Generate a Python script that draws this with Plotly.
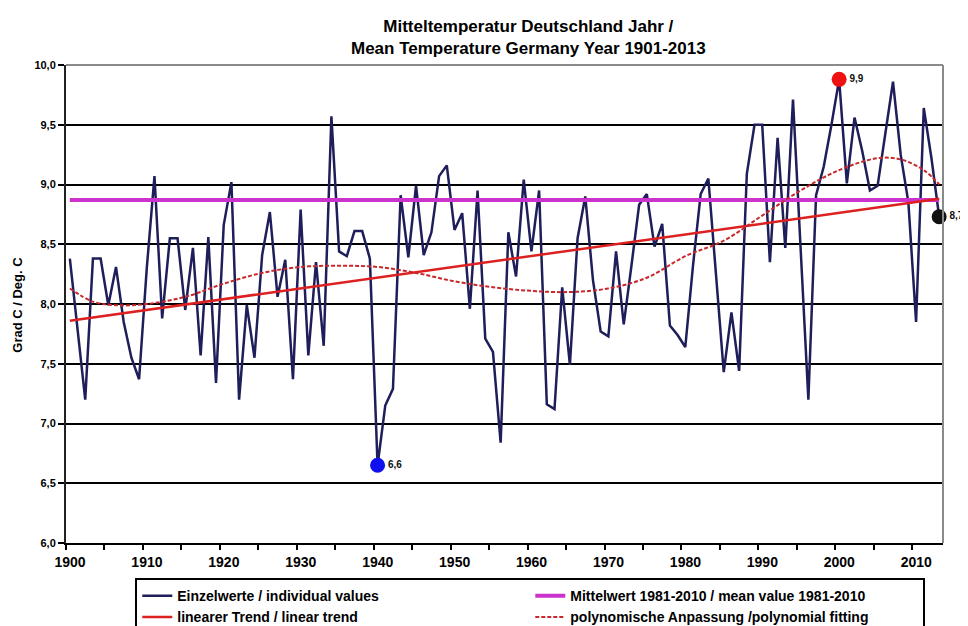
import plotly.graph_objects as go

# ---------------- data ----------------
years = list(range(1900, 2014))
temps = [
    8.38, 7.80, 7.20, 8.38, 8.38, 7.99, 8.31, 7.85, 7.55, 7.37,   # 1900-1909
    8.30, 9.07, 7.88, 8.55, 8.55, 7.95, 8.47, 7.57, 8.56, 7.34,   # 1910-1919
    8.66, 9.02, 7.20, 7.99, 7.55, 8.41, 8.77, 8.06, 8.37, 7.37,   # 1920-1929
    8.79, 7.57, 8.35, 7.65, 9.57, 8.44, 8.40, 8.61, 8.61, 8.38,   # 1930-1939
    6.65, 7.15, 7.29, 8.91, 8.39, 8.99, 8.41, 8.60, 9.07, 9.16,   # 1940-1949
    8.62, 8.76, 7.96, 8.95, 7.71, 7.60, 6.84, 8.60, 8.23, 9.04,   # 1950-1959
    8.44, 8.95, 7.16, 7.12, 8.14, 7.49, 8.55, 8.90, 8.20, 7.77,   # 1960-1969
    7.73, 8.44, 7.83, 8.32, 8.83, 8.92, 8.48, 8.67, 7.82, 7.74,   # 1970-1979
    7.64, 8.32, 8.92, 9.05, 8.24, 7.43, 7.93, 7.44, 9.09, 9.50,   # 1980-1989
    9.50, 8.35, 9.39, 8.47, 9.71, 8.45, 7.20, 8.91, 9.15, 9.50,   # 1990-1999
    9.88, 9.01, 9.56, 9.28, 8.95, 8.99, 9.43, 9.86, 9.25, 8.85,   # 2000-2009
    7.85, 9.64, 9.22, 8.73,                                       # 2010-2013
]

mean_years = [1900, 2013]
mean_value = [8.87, 8.87]

trend_years = [1900, 2013]
trend_values = [7.86, 8.88]

poly_years = [1900, 1903, 1906, 1910, 1915, 1920, 1925, 1930, 1935, 1940,
              1945, 1950, 1955, 1960, 1965, 1970, 1975, 1980, 1985, 1990,
              1995, 2000, 2005, 2008, 2011, 2013]
poly_values = [8.13, 8.02, 7.99, 8.00, 8.06, 8.17, 8.26, 8.31, 8.32, 8.31,
               8.26, 8.19, 8.14, 8.11, 8.10, 8.13, 8.22, 8.40, 8.53, 8.74,
               8.95, 9.12, 9.22, 9.21, 9.12, 9.00]

marked_years = [1940, 2000, 2013]
marked_values = [6.65, 9.88, 8.73]
marked_labels = ["6,6", "9,9", "8,7"]
marked_colors = ["#1010ee", "#ee1111", "#111111"]

tick_years = list(range(1900, 2011, 5))
tick_labels = [str(y) if y % 10 == 0 else "" for y in tick_years]
y_ticks = [6.0, 6.5, 7.0, 7.5, 8.0, 8.5, 9.0, 9.5, 10.0]

title_text = "Mitteltemperatur Deutschland Jahr /<br>Mean Temperature Germany Year 1901-2013"
y_title = "Grad C / Deg. C"

FONT = "Liberation Sans, Arial, sans-serif"

# ---------------- figure ----------------
fig = go.Figure()

fig.add_trace(go.Scatter(
    x=years, y=temps, mode="lines", name="Einzelwerte / individual values",
    line=dict(color="#1e1e5a", width=2.5),
))
fig.add_trace(go.Scatter(
    x=mean_years, y=mean_value, mode="lines",
    name="Mittelwert 1981-2010 / mean value 1981-2010",
    line=dict(color="#cc33cc", width=4),
))
fig.add_trace(go.Scatter(
    x=trend_years, y=trend_values, mode="lines",
    name="linearer Trend / linear trend",
    line=dict(color="#dd2020", width=2.5),
))
fig.add_trace(go.Scatter(
    x=poly_years, y=poly_values, mode="lines", line_shape="spline",
    name="polynomische Anpassung /polynomial fitting",
    line=dict(color="#c8282c", width=2, dash="4px,2px"),
))
fig.add_trace(go.Scatter(
    x=marked_years, y=marked_values, mode="markers+text",
    text=marked_labels, textposition="middle right",
    textfont=dict(family=FONT, size=10, color="#111111", weight="bold"),
    marker=dict(color=marked_colors, size=15),
    showlegend=False, cliponaxis=False,
))

fig.update_layout(
    width=960, height=618,
    paper_bgcolor="white", plot_bgcolor="white",
    margin=dict(l=58, r=25, t=57, b=83, autoexpand=False),
    separators=",.",
    font=dict(family=FONT, color="black"),
    showlegend=True,
    legend=dict(
        orientation="h", x=0.079, y=-0.0735, xanchor="left", yanchor="top",
        entrywidth=348, entrywidthmode="pixels",
        bordercolor="black", borderwidth=2, bgcolor="white",
        font=dict(family=FONT, size=14, color="black", weight="bold"),
        tracegroupgap=0,
    ),
    xaxis=dict(
        range=[1899.5, 2013.5],
        tickmode="array",
        tickvals=[y - 0.5 for y in tick_years],
        ticktext=tick_labels,
        ticklabelshift=4,
        ticks="outside", ticklen=5, tickwidth=1.5, tickcolor="black",
        showgrid=False, zeroline=False,
        showline=True, linecolor="black", linewidth=2,
        tickfont=dict(family=FONT, size=14, color="black", weight="bold"),
    ),
    yaxis=dict(
        range=[6.0, 10.0],
        tickmode="array", tickvals=y_ticks, tickformat=".1f",
        ticks="outside", ticklen=6, tickwidth=1.5, tickcolor="black",
        showgrid=True, gridcolor="black", gridwidth=1.6,
        zeroline=False,
        showline=True, linecolor="#222222", linewidth=2,
        tickfont=dict(family=FONT, size=11, color="black", weight="bold"),
    ),
    shapes=[
        dict(type="line", xref="paper", yref="paper", x0=0, x1=1, y0=1, y1=1,
             line=dict(color="#8a8a8a", width=2), layer="above"),
        dict(type="line", xref="paper", yref="paper", x0=1, x1=1, y0=0, y1=1,
             line=dict(color="#8a8a8a", width=2), layer="above"),
    ],
    annotations=[
        dict(text=title_text, xref="paper", yref="paper", x=0.527, y=1.0575,
             xanchor="center", yanchor="middle", showarrow=False,
             font=dict(family=FONT, size=17, color="black", weight="bold")),
        dict(text=y_title, xref="paper", yref="paper", x=-0.055, y=0.498,
             xanchor="center", yanchor="middle", showarrow=False, textangle=-90,
             font=dict(family=FONT, size=13, color="black", weight="bold")),
    ],
)

fig.write_html("out.html")
